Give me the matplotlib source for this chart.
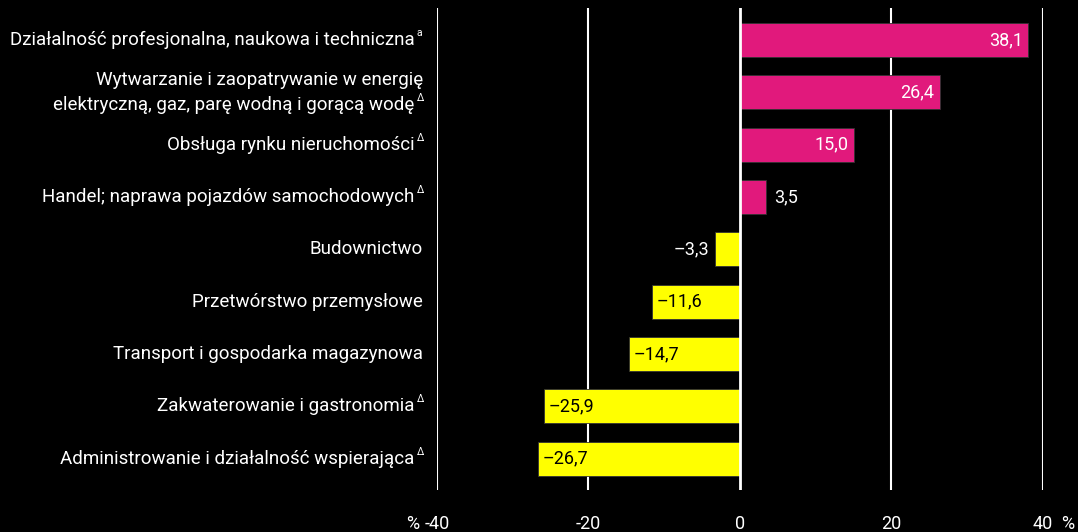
import matplotlib.pyplot as plt

plt.rcParams["font.family"] = ["Roboto", "DejaVu Sans"]

# sectors (top to bottom), superscript note marks and change in %
sectors = [
    "Działalność profesjonalna, naukowa i techniczna",
    "Wytwarzanie i zaopatrywanie w energię\nelektryczną, gaz, parę wodną i gorącą wodę",
    "Obsługa rynku nieruchomości",
    "Handel; naprawa pojazdów samochodowych",
    "Budownictwo",
    "Przetwórstwo przemysłowe",
    "Transport i gospodarka magazynowa",
    "Zakwaterowanie i gastronomia",
    "Administrowanie i działalność wspierająca",
]
marks = ["a", "Δ", "Δ", "Δ", "", "", "", "Δ", "Δ"]
values = [38.1, 26.4, 15.0, 3.5, -3.3, -11.6, -14.7, -25.9, -26.7]
xticks = [-40, -20, 0, 20, 40]
xticklabels = ["-40", "-20", "0", "20", "40"]

POS = "#e1197c"
NEG = "#ffff00"


def fmt(v):
    s = f"{abs(v):.1f}".replace(".", ",")
    return ("\u2013" + s) if v < 0 else s


fig = plt.figure(figsize=(10.78, 5.32), dpi=100, facecolor="black")
ax = fig.add_axes([0.4054, 0.079, 0.562, 0.906], facecolor="black")

ypos = list(range(len(values)))
colors = [POS if v > 0 else NEG for v in values]
ax.barh(ypos, values, height=0.65, color=colors, edgecolor="#333333",
        linewidth=0.6, zorder=2)

for x in xticks:
    if x == 0:
        ax.axvline(x, color="white", lw=2, zorder=3)
    else:
        ax.axvline(x, color="white", lw=1.5, zorder=1)

ax.set_xlim(-40, 40)
ax.set_ylim(8.6, -0.61)

for y, v in zip(ypos, values):
    if v >= 10:
        ax.text(v - 0.7, y, fmt(v), ha="right", va="center", color="white",
                fontsize=13, zorder=4)
    elif v > 0:
        ax.text(v + 1.0, y, fmt(v), ha="left", va="center", color="white",
                fontsize=13, zorder=4)
    elif v > -10:
        ax.text(v - 0.7, y, fmt(v), ha="right", va="center", color="white",
                fontsize=13, zorder=4)
    else:
        ax.text(v + 0.6, y, fmt(v), ha="left", va="center", color="black",
                fontsize=13, zorder=4)

# category labels; a note mark, if any, sits just right of the last line
for y, name, m in zip(ypos, sectors, marks):
    lines = name.split("\n")
    n = len(lines)
    for i, line in enumerate(lines):
        yy = y + (i - (n - 1) / 2) * 0.48
        off = -10
        if i == n - 1 and m:
            off = -16
            ax.annotate(m, xy=(0, yy), xycoords=("axes fraction", "data"),
                        xytext=(-14.5, 5), textcoords="offset points",
                        ha="left", va="center", color="white", fontsize=7.5)
        ax.annotate(line, xy=(0, yy), xycoords=("axes fraction", "data"),
                    xytext=(off, 0), textcoords="offset points",
                    ha="right", va="center", color="white", fontsize=13.5)

ax.set_xticks(xticks)
ax.set_xticklabels(xticklabels, color="white", fontsize=13)
ax.tick_params(axis="x", length=0, pad=18)
ax.set_yticks([])
for s in ax.spines.values():
    s.set_visible(False)

# unit signs either side of the end tick labels
ax.annotate("%", xy=(xticks[0], 0), xycoords=("data", "axes fraction"),
            xytext=(-13, -18), textcoords="offset points",
            ha="right", va="top", color="white", fontsize=13)
ax.annotate("%", xy=(xticks[-1], 0), xycoords=("data", "axes fraction"),
            xytext=(13, -18), textcoords="offset points",
            ha="left", va="top", color="white", fontsize=13)

fig.savefig("out.png", dpi=100, facecolor="black")
